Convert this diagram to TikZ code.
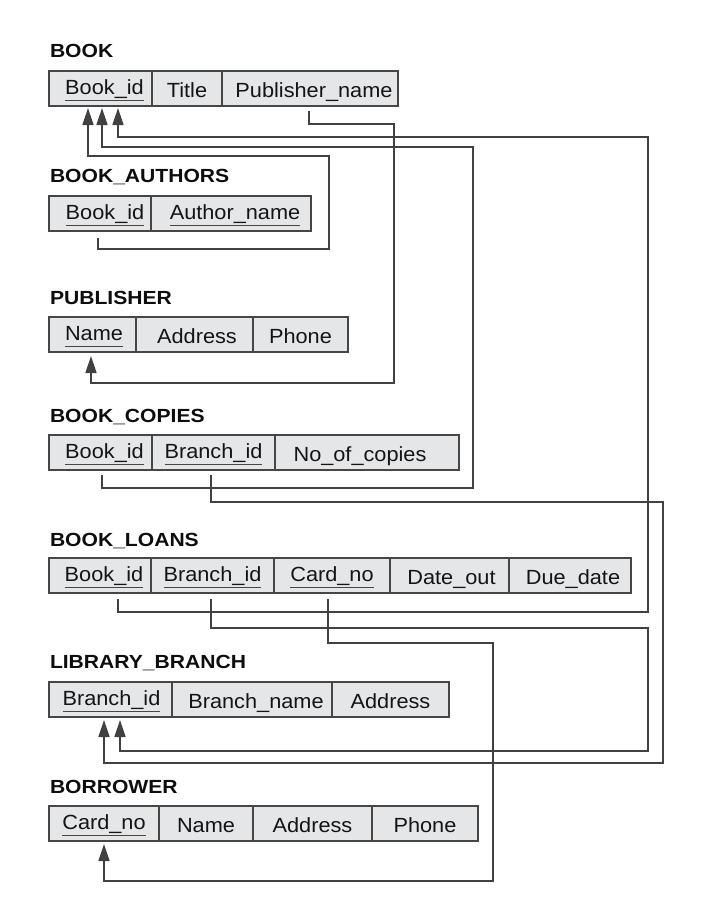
\documentclass[tikz,border=0pt]{standalone}
\usepackage{fontspec}
\setmainfont{Liberation Sans}[FakeStretch=1.06]
\newfontfamily\lblfont{Liberation Sans}[FakeStretch=1.11]
\usetikzlibrary{arrows.meta}
\definecolor{cellfill}{RGB}{229,230,232}
\definecolor{edgegray}{RGB}{70,70,70}
\definecolor{wiregray}{RGB}{65,65,65}
\tikzset{
  cellbox/.style={draw=edgegray, line width=1.6pt, fill=cellfill, minimum height=35pt,
    inner sep=0pt, outer sep=0pt, anchor=north west},
  celltext/.style={inner sep=0pt, outer sep=0pt, anchor=base, text=black!92,
    font=\fontsize{20.5}{24}\selectfont},
  uline/.style={draw=edgegray, line width=1.3pt},
  tbllabel/.style={inner sep=0pt, outer sep=0pt, anchor=base west, text=black!95,
    font=\lblfont\bfseries\fontsize{19}{22}\selectfont},
  fk/.style={draw=wiregray, line width=1.5pt, -{Triangle[length=17pt,width=11pt]}}
}
\newcommand\rcell[4]{\node[cellbox, minimum width={#3-#2}] (#1) at (#2,#4) {};}
\newcommand\keytxt[3]{%
  \node[celltext] (#1t) at ([yshift=-23pt,xshift=#3]#1.north) {#2};
  \draw[uline] ([yshift=-6.5pt]#1t.base west) -- ([yshift=-6.5pt]#1t.base east);}
\newcommand\plaintxt[3]{\node[celltext] (#1t) at ([yshift=-26.5pt,xshift=#3]#1.north) {#2};}
\begin{document}
\begin{tikzpicture}[x=1pt,y=-1pt]
\useasboundingbox (0,0) rectangle (716,918);
% ---------- BOOK
\node[tbllabel] (lbook) at (50,57) {BOOK};
\rcell{b1}{49}{152}{71}\rcell{b2}{152}{222}{71}\rcell{b3}{222}{398}{71}
\keytxt{b1}{Book\_id}{4pt}\plaintxt{b2}{Title}{0pt}\plaintxt{b3}{Publisher\_name}{4pt}
% ---------- BOOK_AUTHORS
\node[tbllabel] (lauth) at (50,182) {BOOK\_AUTHORS};
\rcell{a1}{49}{151}{196}\rcell{a2}{151}{311}{196}
\keytxt{a1}{Book\_id}{5pt}\keytxt{a2}{Author\_name}{4pt}
% ---------- PUBLISHER
\node[tbllabel] (lpub) at (50,304) {PUBLISHER};
\rcell{p1}{49}{136}{317}\rcell{p2}{136}{253}{317}\rcell{p3}{253}{348}{317}
\keytxt{p1}{Name}{1.5pt}\plaintxt{p2}{Address}{2.5pt}\plaintxt{p3}{Phone}{0pt}
% ---------- BOOK_COPIES
\node[tbllabel] (lcop) at (50,422) {BOOK\_COPIES};
\rcell{c1}{49}{152}{435}\rcell{c2}{152}{275}{435}\rcell{c3}{275}{459}{435}
\keytxt{c1}{Book\_id}{4pt}\keytxt{c2}{Branch\_id}{0pt}\plaintxt{c3}{No\_of\_copies}{-7pt}
% ---------- BOOK_LOANS
\node[tbllabel] (lloan) at (50,546) {BOOK\_LOANS};
\rcell{l1}{49}{151}{558}\rcell{l2}{151}{274}{558}\rcell{l3}{274}{390}{558}
\rcell{l4}{390}{509}{558}\rcell{l5}{509}{631}{558}
\keytxt{l1}{Book\_id}{4pt}\keytxt{l2}{Branch\_id}{0pt}\keytxt{l3}{Card\_no}{0pt}
\plaintxt{l4}{Date\_out}{2pt}\plaintxt{l5}{Due\_date}{3pt}
% ---------- LIBRARY_BRANCH
\node[tbllabel] (llib) at (50,668) {LIBRARY\_BRANCH};
\rcell{r1}{49}{172}{682}\rcell{r2}{172}{332}{682}\rcell{r3}{332}{449}{682}
\keytxt{r1}{Branch\_id}{1pt}\plaintxt{r2}{Branch\_name}{4pt}\plaintxt{r3}{Address}{0pt}
% ---------- BORROWER
\node[tbllabel] (lbor) at (50,793) {BORROWER};
\rcell{w1}{49}{159}{806}\rcell{w2}{159}{253}{806}\rcell{w3}{253}{372}{806}\rcell{w4}{372}{478}{806}
\keytxt{w1}{Card\_no}{0pt}\plaintxt{w2}{Name}{0pt}\plaintxt{w3}{Address}{0pt}\plaintxt{w4}{Phone}{0pt}
% ---------- foreign keys
\draw[fk] ([xshift=-2pt,yshift=-7pt]a1.south) |- (329,249) |- (88,156)
  -- ([xshift=-12.5pt,yshift=-2pt]b1.south);
\draw[fk] ([xshift=1.5pt,yshift=-5pt]c1.south) |- (473,488) |- (102,147)
  -- ([xshift=1.5pt,yshift=-2pt]b1.south);
\draw[fk] ([xshift=18pt,yshift=-6pt]l1.south) |- (648,612) |- (118,137)
  -- ([xshift=17.5pt,yshift=-2pt]b1.south);
\draw[fk] ([xshift=-1pt,yshift=-5pt]b3.south) |- (394,124) |- (91,383)
  -- ([xshift=-1.5pt,yshift=-4pt]p1.south);
\draw[fk] ([xshift=-2.5pt,yshift=-5pt]c2.south) |- (663,502) |- (104,763)
  -- ([xshift=-6.5pt,yshift=-3pt]r1.south);
\draw[fk] ([xshift=-1.5pt,yshift=-6pt]l2.south) |- (648,628) |- (120,751)
  -- ([xshift=9.5pt,yshift=-3pt]r1.south);
\draw[fk] ([xshift=-4pt,yshift=-6pt]l3.south) |- (493,643) |- (104,881)
  -- ([xshift=0pt,yshift=-3pt]w1.south);
\end{tikzpicture}
\end{document}
